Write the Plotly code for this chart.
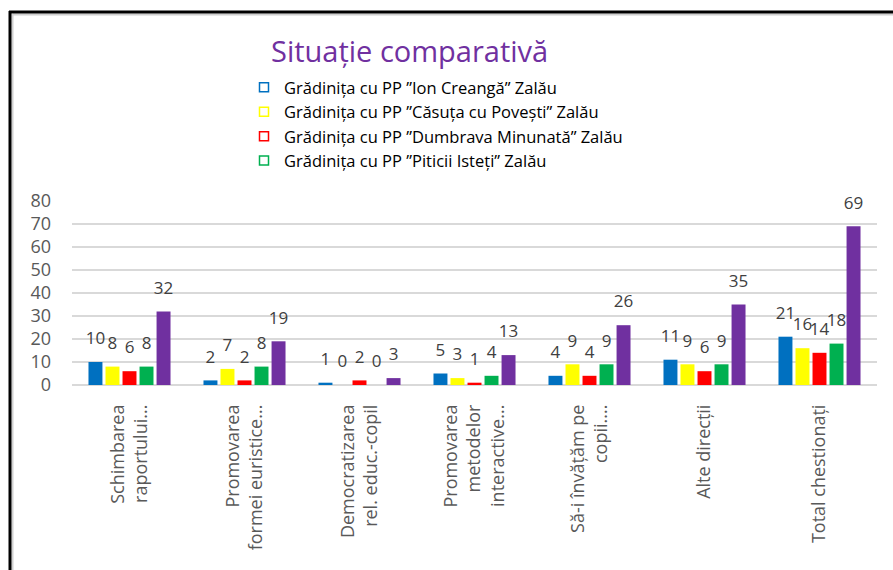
import plotly.graph_objects as go

categories = [
    "Schimbarea<br>raportului...",
    "Promovarea<br>formei euristice...",
    "Democratizarea<br>rel. educ.-copil",
    "Promovarea<br>metodelor<br>interactive...",
    "Să-i învățăm pe<br>copii....",
    "Alte direcții",
    "Total chestionați",
]
series_names = [
    "Grădinița cu PP ”Ion Creangă” Zalău",
    "Grădinița cu PP ”Căsuța cu Povești” Zalău",
    "Grădinița cu PP ”Dumbrava Minunată” Zalău",
    "Grădinița cu PP ”Piticii Isteți” Zalău",
    "Total",
]
ion_creanga = [10, 2, 1, 5, 4, 11, 21]
casuta = [8, 7, 0, 3, 9, 9, 16]
dumbrava = [6, 2, 2, 1, 4, 6, 14]
piticii = [8, 8, 0, 4, 9, 9, 18]
total = [32, 19, 3, 13, 26, 35, 69]
y_ticks = [0, 10, 20, 30, 40, 50, 60, 70, 80]

colors = ["#0070C0", "#FFFF00", "#FF0000", "#00B050", "#7030A0"]
values = [ion_creanga, casuta, dumbrava, piticii, total]

FONT = "Open Sans"
fig = go.Figure()

for i, (name, vals) in enumerate(zip(series_names, values)):
    fig.add_trace(go.Bar(
        x=categories, y=vals, name=name, marker=dict(color=colors[i], line=dict(width=0)),
        showlegend=False, hoverinfo="skip", offsetgroup=str(i),
    ))
for i, (name, vals) in enumerate(zip(series_names, values)):
    fig.add_trace(go.Scatter(
        x=categories, y=vals, mode="markers+text", text=[str(v) for v in vals],
        textposition="top center", textfont=dict(family=FONT, size=17, color="#404040"),
        marker=dict(size=20, opacity=0), showlegend=False, hoverinfo="skip",
        offsetgroup=str(i), cliponaxis=False,
    ))
# legend entries (hollow squares)
for i in range(4):
    fig.add_trace(go.Scatter(
        x=[None], y=[None], mode="markers", name=series_names[i],
        marker=dict(symbol="square-open", size=9, color=colors[i], line=dict(width=1.5)),
        xaxis="x2", yaxis="y2",
    ))

L, R, T, B = 72, 16, 201, 185
W, H = 893, 570
pw, ph = W - L - R, H - T - B

def px(xp):
    return (xp - L) / pw

def py(yp):
    return (H - B - yp) / ph

shapes = [
    dict(type="line", xref="paper", yref="paper", x0=px(13), x1=px(900), y0=py(14.5), y1=py(14.5),
         line=dict(color="#D0D0D0", width=2)),
    dict(type="line", xref="paper", yref="paper", x0=px(12.5), x1=px(12.5), y0=py(14), y1=py(580),
         line=dict(color="#D0D0D0", width=2)),
    dict(type="line", xref="paper", yref="paper", x0=px(9), x1=px(900), y0=py(12), y1=py(12),
         line=dict(color="black", width=3)),
    dict(type="line", xref="paper", yref="paper", x0=px(10), x1=px(10), y0=py(11), y1=py(580),
         line=dict(color="black", width=3)),
]

fig.update_layout(
    width=W, height=H,
    margin=dict(l=L, r=R, t=T, b=B, pad=0),
    paper_bgcolor="white", plot_bgcolor="white",
    barmode="group", bargap=0.26, bargroupgap=0.18,
    scattermode="group", scattergap=0.26,
    title=dict(text="Situație comparativă", font=dict(family=FONT, size=29, color="#7030A0"),
               x=271 / W, xanchor="left", xref="container", y=1 - 52 / H, yanchor="middle", yref="container"),
    legend=dict(x=px(244), xanchor="left", y=py(70), yanchor="top",
                font=dict(family=FONT, size=16.5, color="#000000"), bgcolor="rgba(0,0,0,0)",
                itemwidth=30, tracegroupgap=0),
    xaxis=dict(tickangle=-90, tickfont=dict(family=FONT, size=18, color="#595959"),
               showgrid=False, showline=False, ticks="", ticklabelstandoff=15, fixedrange=True),
    yaxis=dict(range=[0, 80], tickvals=y_ticks, tickfont=dict(family=FONT, size=18, color="#595959"),
               showgrid=True, gridcolor="#D9D9D9", gridwidth=2, zeroline=True, zerolinecolor="#D9D9D9",
               zerolinewidth=2, showline=False, ticks="", ticklabelstandoff=20, fixedrange=True),
    xaxis2=dict(visible=False, overlaying="x", range=[0, 1]),
    yaxis2=dict(visible=False, overlaying="y", range=[0, 1]),
    shapes=shapes,
    showlegend=True,
)

fig.write_html("out.html", config={"displayModeBar": False},
               post_script="document.body.style.margin='0';")
